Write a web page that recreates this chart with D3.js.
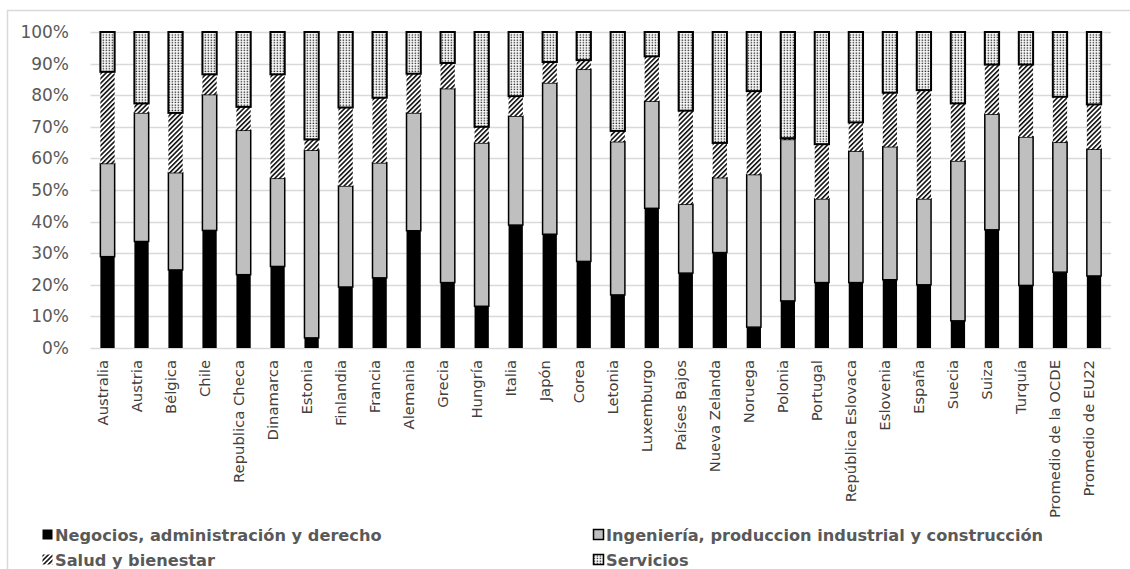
<!DOCTYPE html>
<html>
<head>
<meta charset="utf-8">
<script src="https://cdn.jsdelivr.net/npm/d3@7"></script>
<style>
  body { margin: 0; background: #fff; }
  svg { display: block; }
</style>
</head>
<body>
<svg id="chart" width="1130" height="569"></svg>
<script>
// categories + shares (%)
let paises = ["Australia","Austria","Bélgica","Chile","Republica Checa","Dinamarca","Estonia","Finlandia","Francia","Alemania","Grecia","Hungría","Italia","Japón","Corea","Letonia","Luxemburgo","Países Bajos","Nueva Zelanda","Noruega","Polonia","Portugal","República Eslovaca","Eslovenia","España","Suecia","Suiza","Turquía","Promedio de la OCDE","Promedio de EU22"];
let negocios   = [28.9,33.7,24.7,37.2,23.2,25.8,3.2,19.3,22.2,37.1,20.7,13.2,38.9,36.0,27.4,16.8,44.2,23.7,30.2,6.6,14.9,20.7,20.7,21.6,20.0,8.6,37.4,19.8,24.0,22.8];
let ingenieria = [29.5,40.7,30.8,43.0,45.7,27.9,59.4,32.0,36.4,37.3,61.4,51.7,34.5,47.9,60.8,48.5,33.9,21.8,23.7,48.3,51.1,26.5,41.6,42.1,27.2,50.6,36.6,47.0,41.1,40.1];
let salud      = [29.0,3.0,18.9,6.4,7.4,32.9,3.4,24.8,20.6,12.4,8.1,5.1,6.3,6.6,2.9,3.4,14.2,29.6,11.0,26.4,0.4,17.3,9.1,17.1,34.4,18.2,15.7,22.9,14.4,14.2];
let servicios  = paises.map((p, i) => 100 - negocios[i] - ingenieria[i] - salud[i]);
let yTicks = [0,10,20,30,40,50,60,70,80,90,100];
let series = ["Negocios, administración y derecho","Ingeniería, produccion industrial y construcción","Salud y bienestar","Servicios"];

let svg = d3.select('#chart');
let textColor = "#595959";

// fills
let defs = svg.append("defs");
let hatch = defs.append("pattern")
                .attr("id", "hatch")
                .attr("patternUnits", "userSpaceOnUse")
                .attr("width", 3.4)
                .attr("height", 3.4)
                .attr("patternTransform", "rotate(45)");
hatch.append("rect").attr("width", 3.4).attr("height", 3.4).attr("fill", "#fff");
hatch.append("rect").attr("width", 1.6).attr("height", 3.4).attr("fill", "#111");

let dots = defs.append("pattern")
               .attr("id", "dots")
               .attr("patternUnits", "userSpaceOnUse")
               .attr("width", 3)
               .attr("height", 2.6);
dots.append("rect").attr("width", 3).attr("height", 2.6).attr("fill", "#fff");
dots.append("rect").attr("x", 0.6).attr("y", 0.5).attr("width", 1.6).attr("height", 1.3).attr("fill", "#333");

let fills   = ["#000", "#bfbfbf", "url(#hatch)", "url(#dots)"];
let strokes = ["none", "#000", "none", "#000"];

// outer chart border
svg.append("rect")
   .attr("x", 7.5).attr("y", 10.5)
   .attr("width", 1140).attr("height", 600)
   .attr("fill", "none")
   .attr("stroke", "#d9d9d9")
   .attr("stroke-width", 1.5);

let x = d3.scaleBand()
          .domain(paises)
          .range([90.5, 1111])
          .paddingInner(0.58)
          .paddingOuter(0.29);

let y = d3.scaleLinear()
          .domain([0, 100])
          .range([348, 32]);

// grid
svg.append("g")
   .selectAll("line")
   .data(yTicks)
   .enter()
   .append("line")
   .attr("x1", 90.5)
   .attr("x2", 1111)
   .attr("y1", d => Math.round(y(d)) + 0.5)
   .attr("y2", d => Math.round(y(d)) + 0.5)
   .attr("stroke", "#d9d9d9")
   .attr("stroke-width", 1.5);

let yAxis = svg.append("g")
               .attr("transform", "translate(69,0)")
               .call(d3.axisLeft(y).tickValues(yTicks).tickSize(0).tickPadding(0).tickFormat(d => d + "%"));
yAxis.select(".domain").remove();
yAxis.selectAll("text")
     .attr("fill", textColor)
     .attr("font-family", "DejaVu Sans")
     .attr("font-size", 17);

// stacked bars
let rows = paises.map((p, i) => ({pais: p, s0: negocios[i], s1: ingenieria[i], s2: salud[i], s3: servicios[i]}));
let stack = d3.stack().keys(["s0","s1","s2","s3"]);
let layers = stack(rows);

let layer = svg.selectAll(".layer")
               .data(layers)
               .enter()
               .append("g")
               .attr("class", "layer")
               .attr("fill", (d, i) => fills[i])
               .attr("stroke", (d, i) => strokes[i])
               .attr("stroke-width", (d, i) => i == 3 ? 2 : 1.5);

layer.selectAll("rect")
     .data(d => d.filter(v => v[1] - v[0] > 0.05))
     .enter()
     .append("rect")
     .attr("x", d => x(d.data.pais))
     .attr("y", d => y(d[1]))
     .attr("width", x.bandwidth())
     .attr("height", d => y(d[0]) - y(d[1]));

// category labels
svg.append("g")
   .selectAll("text")
   .data(paises)
   .enter()
   .append("text")
   .attr("transform", d => "translate(" + (x(d) + x.bandwidth() / 2 + 0.5) + ",360) rotate(-90)")
   .attr("text-anchor", "end")
   .attr("fill", "#404040")
   .attr("font-family", "DejaVu Sans")
   .attr("font-size", 14.8)
   .text(d => d);

// legend
let legendPos = [[42, 535], [593, 535], [42, 560], [593, 560]];
let legend = svg.selectAll(".legend")
                .data(series)
                .enter()
                .append("g")
                .attr("class", "legend")
                .attr("transform", (d, i) => "translate(" + legendPos[i][0] + "," + legendPos[i][1] + ")");

legend.append("rect")
      .attr("x", 0.5)
      .attr("y", -5.5)
      .attr("width", 10)
      .attr("height", 10)
      .attr("fill", (d, i) => fills[i])
      .attr("stroke", (d, i) => strokes[i])
      .attr("stroke-width", 1.5);

legend.append("text")
      .attr("x", 13)
      .attr("dy", "0.36em")
      .attr("fill", textColor)
      .attr("font-family", "DejaVu Sans")
      .attr("font-weight", "bold")
      .attr("font-size", 16.2)
      .text(d => d);
</script>
</body>
</html>
